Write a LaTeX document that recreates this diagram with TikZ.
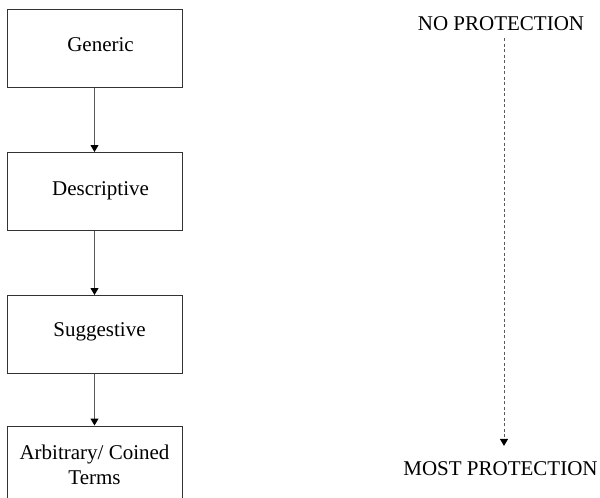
\documentclass[tikz,border=0pt]{standalone}
\usepackage{fontspec}
\setmainfont{Liberation Serif}
\usetikzlibrary{arrows.meta,positioning}
\tikzset{
  stage/.style={draw=black!80, line width=1pt, minimum width=175pt, minimum height=78pt, inner sep=0pt},
  flow/.style={draw=black!65, line width=1pt, -{Triangle[length=7pt,width=8pt,color=black]}},
  scalearrow/.style={flow, dash pattern=on 3pt off 2.5pt}
}
\begin{document}
\begin{tikzpicture}[x=1pt, y=-1pt, font=\fontsize{21}{25}\selectfont]
    \useasboundingbox (0,0) rectangle (600,498);
    \clip (0,0) rectangle (600,498);
    % classification chain
    \node[stage, label={[xshift=6pt,yshift=3pt]center:Generic}] (generic) at (94.5,48) {};
    \node[stage, label={[xshift=6pt,yshift=1pt]center:Descriptive}] (descriptive) at (94.5,191.5) {};
    \node[stage, label={[xshift=5pt,yshift=3pt]center:Suggestive}] (suggestive) at (94.5,334.5) {};
    \node[stage, align=center] (arbitrary) at (94.5,465) {Arbitrary/ Coined\\Terms};
    \draw[flow] (generic) -- (descriptive);
    \draw[flow] (descriptive) -- (suggestive);
    \draw[flow] (suggestive) -- (arbitrary);
    % protection scale
    \node (none) at (501,24) {NO PROTECTION};
    \node (most) at (500.5,469) {MOST PROTECTION};
    \draw[scalearrow, shorten <=3.5pt, shorten >=12.5pt] ([xshift=3pt]none.south) -- ([xshift=3pt]none.south |- most.north);
\end{tikzpicture}
\end{document}
